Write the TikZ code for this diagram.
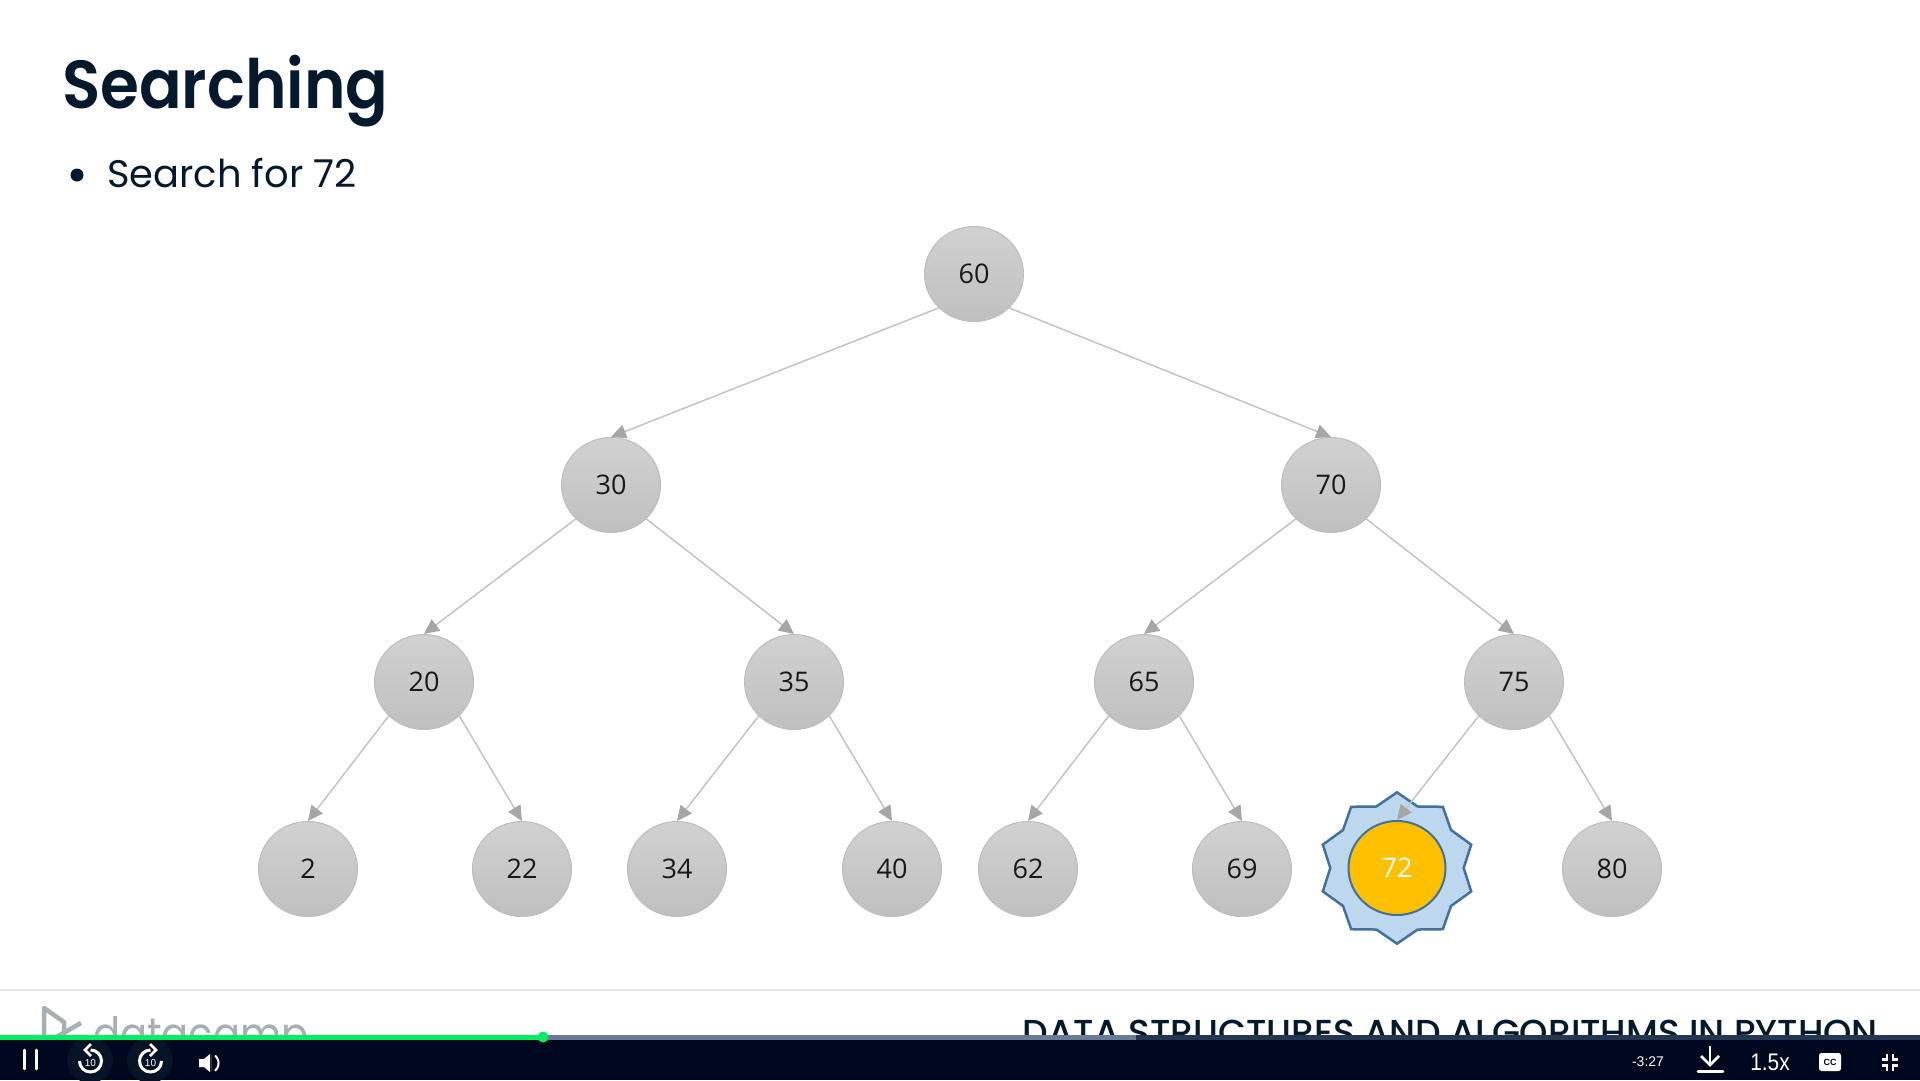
\documentclass[tikz,border=0pt]{standalone}
\usepackage{fontspec}
\setmainfont{Poppins}
\newfontfamily\labelfont{Open Sans}
\newfontfamily\titlefont[FakeStretch=0.925]{Poppins SemiBold}
\newfontfamily\coursefont{Poppins Medium}
\newfontfamily\brandfont[FakeStretch=0.87]{Poppins}
\newfontfamily\playerfont{Liberation Sans}
\newfontfamily\speedfont[FakeStretch=0.87]{Liberation Sans}
\usepackage{xcolor}
\usetikzlibrary{arrows.meta, shapes.geometric}

\definecolor{navy}{HTML}{05192D}
\definecolor{playerbg}{HTML}{000820}
\definecolor{halofill}{HTML}{071326}
\definecolor{edgegray}{HTML}{C4C4C4}
\definecolor{tipgray}{HTML}{A6A6A6}
\definecolor{logogray}{HTML}{A9AEB3}
\definecolor{rulegray}{HTML}{E8E4E0}
\definecolor{starblue}{HTML}{BDD7EE}
\definecolor{starline}{HTML}{41719C}
\definecolor{foundfill}{HTML}{FFC000}
\definecolor{barplayed}{HTML}{03EF62}
\definecolor{barloaded}{HTML}{6B7B95}
\definecolor{barrest}{HTML}{253650}

\tikzset{
  treenode/.style={ellipse, minimum width=99pt, minimum height=95pt, inner sep=0pt,
    draw=black!26, line width=1pt, top color=black!18, bottom color=black!25,
    font=\labelfont\fontsize{27}{30}\selectfont, text=black!90},
  foundnode/.style={ellipse, minimum width=97pt, minimum height=94pt, inner sep=0pt,
    draw=starline, line width=2pt, fill=foundfill,
    font=\labelfont\fontsize{27}{30}\selectfont, text=white},
  treeedge/.style={draw=edgegray, line width=1.5pt,
    -{Triangle[length=15pt, width=14pt, color=tipgray]}},
  playertext/.style={text=white, inner sep=0pt},
  playerline/.style={draw=white, line width=2.6pt},
  halo/.style={circle, fill=halofill, minimum size=46pt, inner sep=0pt}
}

\begin{document}
\begin{tikzpicture}[x=1pt, y=-1pt]
  \useasboundingbox (0,0) rectangle (1920,1080);
  \fill[white] (0,0) rectangle (1920,1080);

  % slide head
  \node[anchor=base west, inner sep=0pt, text=navy, font=\titlefont\fontsize{68}{70}\selectfont] (title) at (62,108) {Searching};
  \node[circle, fill=navy, minimum size=13pt, inner sep=0pt] (bullet) at (77,175) {};
  \node[anchor=base west, inner sep=0pt, text=navy, font=\fontsize{38.4}{40}\selectfont] (subtitle) at (107,187) {Search for 72};

  % tree
  \node[star, star points=10, star point ratio=1.17, minimum size=156pt, inner sep=0pt, yscale=0.97, transform shape,
    fill=starblue, draw=starline, line width=2.5pt] (burst) at (1397,868) {};
  \foreach \nm/\px/\py in {60/974/274, 30/611/485, 70/1331/485,
      20/424/682, 35/794/682, 65/1144/682, 75/1514/682,
      2/308/869, 22/522/869, 34/677/869, 40/892/869,
      62/1028/869, 69/1242/869, 80/1612/869}
    \node[treenode] (n\nm) at (\px,\py) {\nm};
  \node[foundnode] (n72) at (1397,868) {72};
  \foreach \a/\b/\c in {60/30/70, 30/20/35, 70/65/75, 20/2/22, 35/34/40, 65/62/69, 75/72/80}
    \path
      (n\a.south west) edge[treeedge] (n\b.north)
      (n\a.south east) edge[treeedge] (n\c.north);

  % footer
  \draw[rulegray, line width=1.5pt] (0,990) -- (1920,990);
  \draw[logogray, line width=4.5pt, line join=round] (44,1040) -- (44,1008) -- (64,1022) -- (64,1040);
  \draw[logogray, line width=4.5pt] (81,1023) -- (44,1044);
  \node[anchor=base west, inner sep=0pt, text=logogray, font=\brandfont\fontsize{46}{48}\selectfont] (brand) at (93,1050) {datacamp};
  \node[anchor=base east, inner sep=0pt, text=navy, font=\coursefont\fontsize{36.1}{38}\selectfont] (course) at (1878,1045) {DATA STRUCTURES AND ALGORITHMS IN PYTHON};

  % player
  \fill[playerbg] (0,1040) rectangle (1920,1080);
  \fill[barrest] (0,1035) rectangle (1920,1040);
  \fill[barloaded] (543,1035) rectangle (1136,1040);
  \fill[barplayed] (0,1035) rectangle (543,1040);
  \node[circle, fill=barplayed, minimum size=11pt, inner sep=0pt] (knob) at (543,1037) {};

  \draw[playerline, line cap=round] (24.5,1050) -- (24.5,1069) (36.5,1050) -- (36.5,1069);

  \begin{scope}
    \clip (0,1040) rectangle (1920,1080);
    \node[halo] (back) at (90,1060) {};
    \node[halo] (fwd) at (150,1060) {};
  \end{scope}
  \draw[playerline, line width=3pt] (79.5,1061) arc[start angle=180, end angle=450, radius=11pt];
  \draw[playerline, line join=miter] (91,1044) -- (85,1050) -- (91,1056);
  \draw[playerline, line width=3pt] (161.5,1061) arc[start angle=0, end angle=-270, radius=11pt];
  \draw[playerline, line join=miter] (150,1044) -- (156,1050) -- (150,1056);
  \node[playertext, font=\playerfont\fontsize{10}{10}\selectfont] (backten) at (90.5,1063) {10};
  \node[playertext, font=\playerfont\fontsize{10}{10}\selectfont] (fwdten) at (150.5,1063) {10};

  \fill[white] (199,1059) -- (204,1059) -- (210,1054) -- (210,1072) -- (204,1067) -- (199,1067) -- cycle;
  \draw[white, line width=2pt] (215,1055.5) arc[start angle=50, end angle=-50, radius=10pt];
  \draw[red!65!black, line width=1pt] (211,1055) -- (211,1071);

  \node[playertext, font=\playerfont\fontsize{14}{14}\selectfont] (timeleft) at (1648,1062) {-3:27};
  \draw[playerline] (1710,1046) -- (1710,1064);
  \draw[playerline, line join=miter] (1701,1056) -- (1710,1065) -- (1719,1056);
  \draw[playerline, line cap=round] (1698,1071.5) -- (1723,1071.5);
  \node[playertext, font=\speedfont\fontsize{24}{24}\selectfont] (speed) at (1770,1062) {1.5x};
  \node[fill=white, rounded corners=2.5pt, text=playerbg, inner sep=0pt, minimum width=22pt, minimum height=18pt,
    font=\playerfont\bfseries\fontsize{9}{9}\selectfont] (cc) at (1830,1062) {CC};
  \foreach \sx/\sy in {-1/-1, 1/-1, -1/1, 1/1}
    \draw[draw=white, line width=2.4pt] (1890+\sx*8,1062.5+\sy*3) -- (1890+\sx*3,1062.5+\sy*3) -- (1890+\sx*3,1062.5+\sy*8.5);
\end{tikzpicture}
\end{document}
